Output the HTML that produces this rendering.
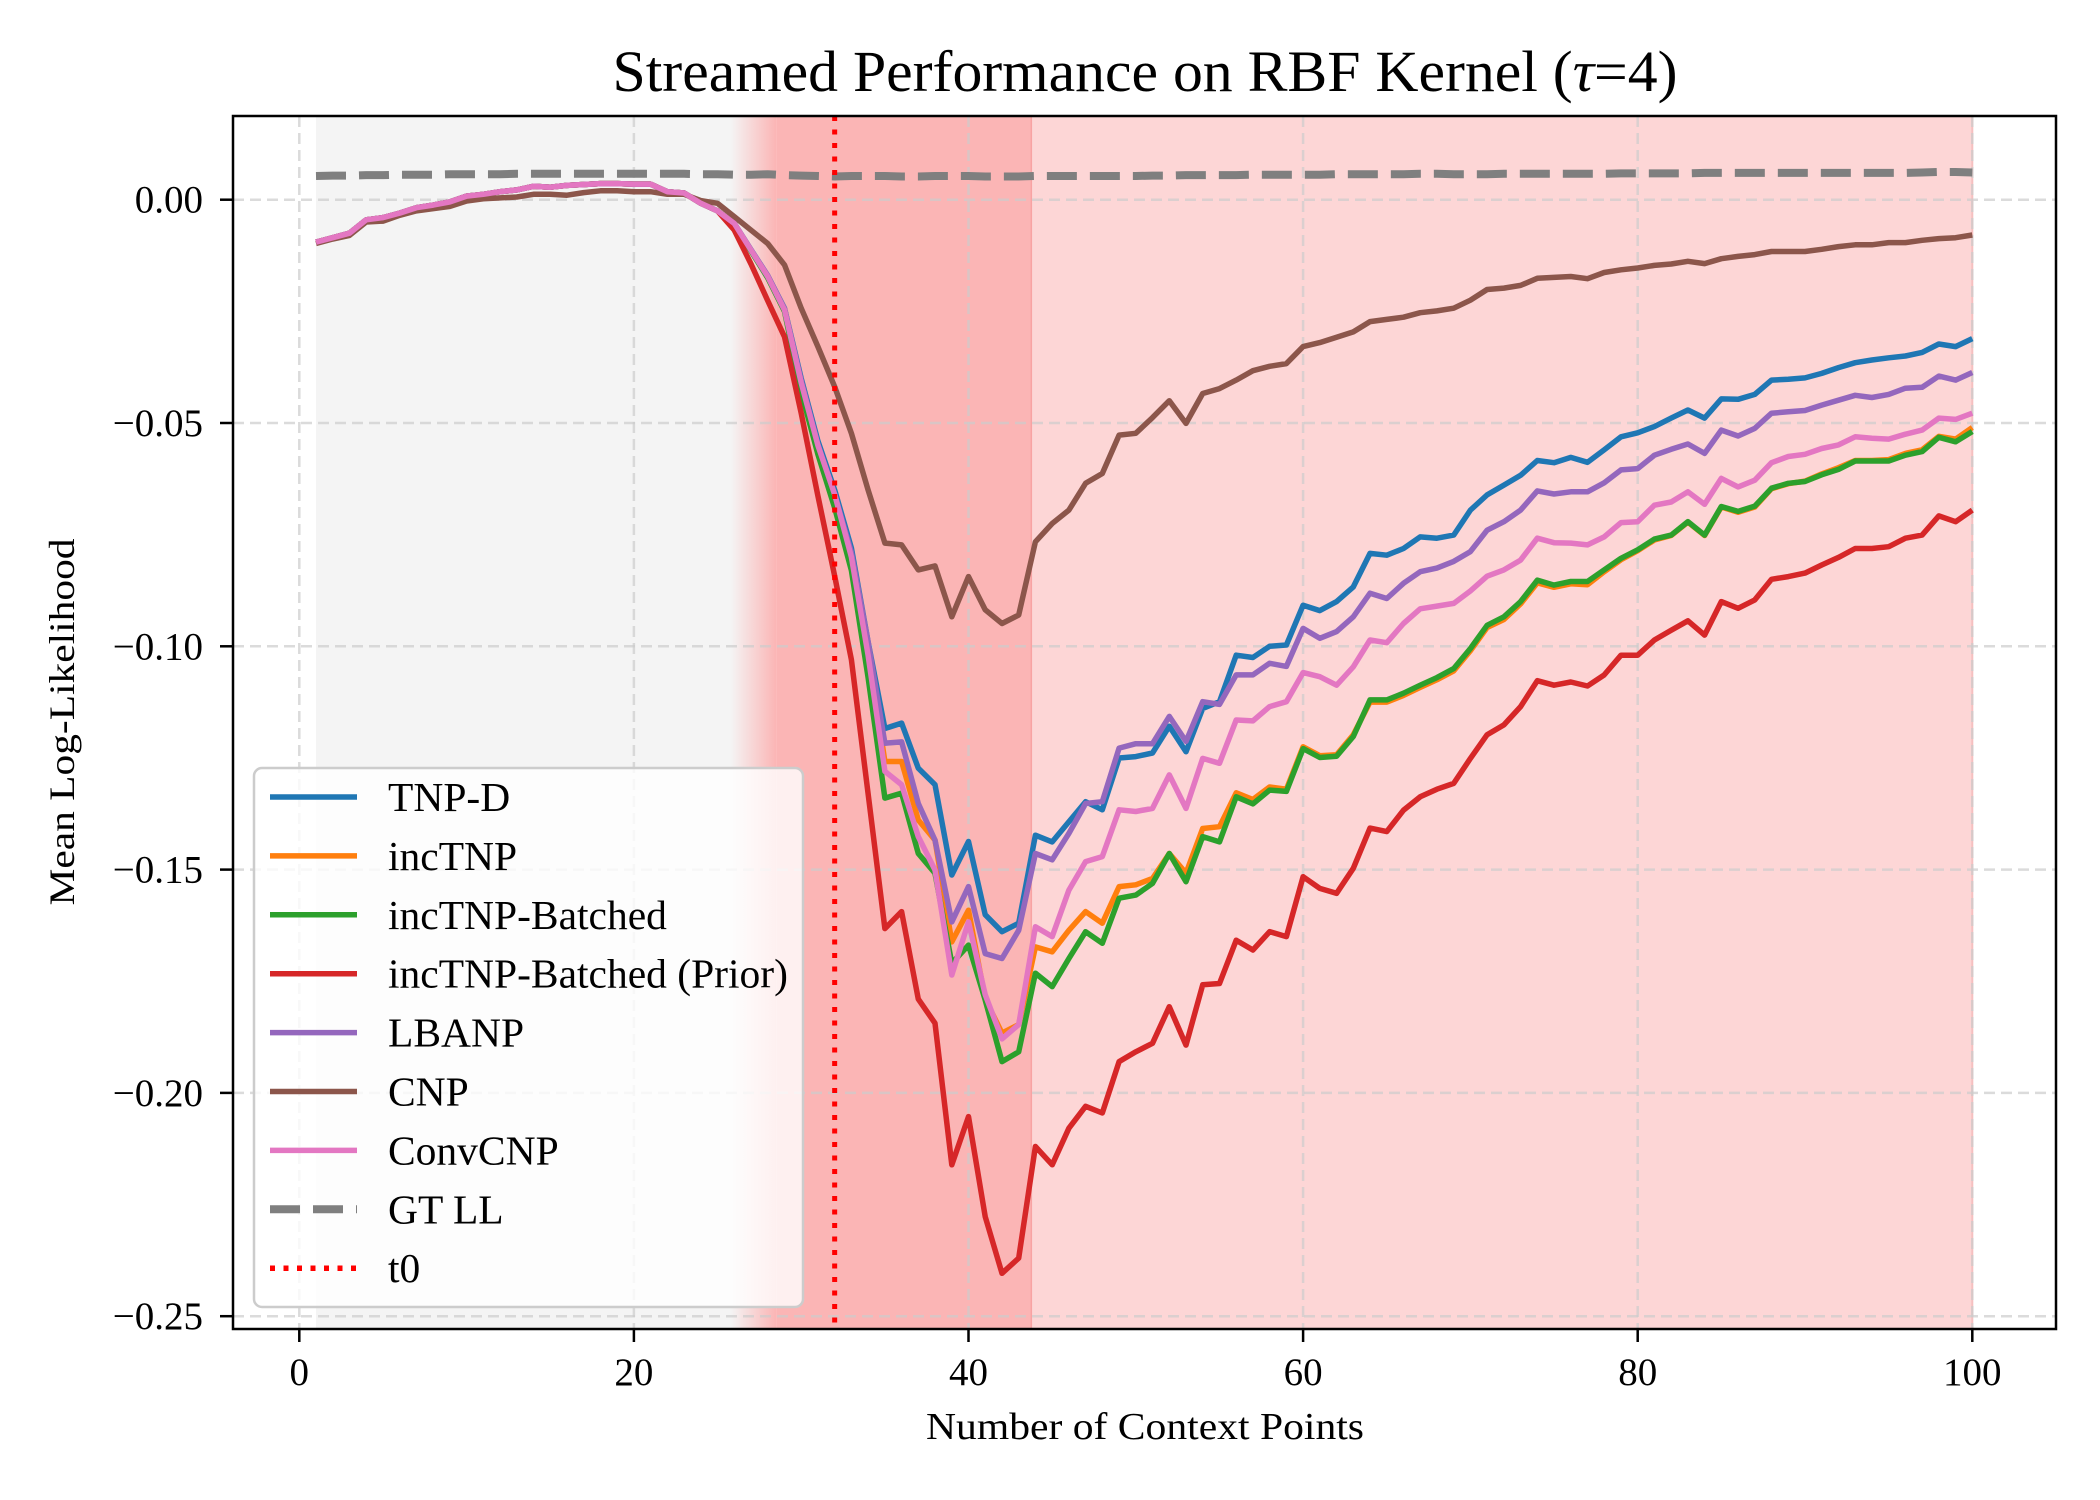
<!DOCTYPE html>
<html><head><meta charset="utf-8"><style>
html,body{margin:0;padding:0;background:#fff;}
svg{display:block;font-family:"Liberation Serif","DejaVu Serif",serif;}
</style></head><body>
<svg id="chart" width="2100" height="1500" viewBox="0 0 2100 1500" xmlns="http://www.w3.org/2000/svg">
<defs>
<linearGradient id="fadeGrad" x1="0" x2="1" y1="0" y2="0"><stop offset="0" stop-color="#f4f4f4"/><stop offset="1" stop-color="#fbb5b5"/></linearGradient>
<clipPath id="plotClip"><rect x="233" y="116" width="1823" height="1213"/></clipPath>
</defs>
<text x="1145" y="91" font-size="58" text-anchor="middle" textLength="1065" lengthAdjust="spacingAndGlyphs">Streamed Performance on RBF Kernel (<tspan font-style="italic">τ</tspan>=4)</text>
<g id="bg"></g><g id="grid"></g><g id="series" clip-path="url(#plotClip)"></g>
<g id="axes"></g><g id="legend"></g>
<text x="1145" y="1439" font-size="38" text-anchor="middle" textLength="438" lengthAdjust="spacingAndGlyphs">Number of Context Points</text>
<text transform="translate(74,722) rotate(-90)" font-size="36" text-anchor="middle" textLength="367" lengthAdjust="spacingAndGlyphs">Mean Log-Likelihood</text>
</svg>
<script>
const xs = Array.from({length:100},(_,i)=>i+1);
const base = [-0.0095,-0.0085,-0.0075,-0.0045,-0.004,-0.003,-0.0018,-0.0012,-0.0005,0.0008,0.0012,0.0018,0.0022,0.003,0.0028,0.0032,0.0034,0.0036,0.0036,0.0035,0.0035,0.0018,0.0015,-0.0008,-0.0025];
const tnpD = base.concat([-0.0053,-0.0112,-0.017,-0.0243,-0.040,-0.054,-0.065,-0.078,-0.099,
-0.1184,-0.1172,-0.1273,-0.1310,-0.1512,-0.1437,-0.1601,-0.1639,-0.1620,-0.1423,
-0.1438,-0.1393,-0.1348,-0.1366,-0.1250,-0.1247,-0.1239,-0.1179,-0.1236,
-0.1139,-0.1124,-0.1020,-0.1025,-0.1000,-0.0997,-0.0908,-0.0920,-0.0900,-0.0867,
-0.0792,-0.0796,-0.0781,-0.0755,-0.0758,-0.0751,-0.0695,-0.0661,-0.0639,-0.0617,
-0.0584,-0.0589,-0.0577,-0.0588,-0.0560,-0.0531,
-0.0522,-0.0508,-0.0489,-0.0471,-0.0489,-0.0446,-0.0447,-0.0436,-0.0404,-0.0402,
-0.0399,-0.0389,-0.0376,-0.0365,-0.0359,-0.0354,-0.0350,-0.0342,-0.0323,-0.0329,-0.0311]);
const incTNP = base.concat([-0.0053,-0.0113,-0.0172,-0.0245,-0.041,-0.0555,-0.0665,-0.080,-0.101,
-0.1258,-0.1258,-0.1389,-0.1434,-0.1662,-0.1591,-0.1790,-0.1866,-0.1847,-0.1673,
-0.1684,-0.1636,-0.1594,-0.1620,-0.1538,-0.1534,-0.1520,-0.1464,-0.1508,
-0.1408,-0.1404,-0.1328,-0.1343,-0.1315,-0.1320,-0.1225,-0.1245,-0.1243,-0.1198,
-0.1125,-0.1125,-0.1110,-0.1092,-0.1075,-0.1055,-0.1010,-0.0958,-0.0940,-0.0905,
-0.0858,-0.0868,-0.0860,-0.0862,-0.0833,-0.0806,
-0.0786,-0.0762,-0.0752,-0.0722,-0.0752,-0.0688,-0.0700,-0.0688,-0.0647,-0.0636,
-0.0630,-0.0614,-0.0600,-0.0584,-0.0584,-0.0582,-0.0568,-0.0560,-0.0530,-0.0536,-0.0510]);
const incBatched = base.concat([-0.0055,-0.0115,-0.0175,-0.025,-0.043,-0.057,-0.069,-0.083,-0.107,
-0.1340,-0.1329,-0.1464,-0.1508,-0.1710,-0.1669,-0.1792,-0.1930,-0.1908,-0.1732,
-0.1762,-0.1699,-0.1639,-0.1665,-0.1564,-0.1557,-0.1531,-0.1464,-0.1527,
-0.1426,-0.1438,-0.1337,-0.1353,-0.1322,-0.1325,-0.1229,-0.1249,-0.1246,-0.1202,
-0.1120,-0.1120,-0.1105,-0.1087,-0.1070,-0.1050,-0.1005,-0.0953,-0.0934,-0.0900,
-0.0852,-0.0863,-0.0855,-0.0855,-0.0829,-0.0803,
-0.0784,-0.0760,-0.0751,-0.0721,-0.0751,-0.0687,-0.0698,-0.0686,-0.0646,-0.0635,
-0.0631,-0.0616,-0.0604,-0.0585,-0.0585,-0.0585,-0.0572,-0.0564,-0.0532,-0.0542,-0.0519]);
const incPrior = base.concat([-0.0068,-0.0144,-0.0226,-0.0307,-0.0478,-0.0663,-0.0843,-0.1030,-0.1330,
-0.1632,-0.1594,-0.1790,-0.1844,-0.2161,-0.2053,-0.2277,-0.2404,-0.2370,-0.2120,
-0.2161,-0.2079,-0.2030,-0.2045,-0.1930,-0.1908,-0.1889,-0.1807,-0.1893,
-0.1758,-0.1755,-0.1658,-0.1680,-0.1639,-0.1650,-0.1516,-0.1542,-0.1553,-0.1497,
-0.1407,-0.1415,-0.1367,-0.1337,-0.1320,-0.1307,-0.1251,-0.1198,-0.1176,-0.1135,
-0.1077,-0.1087,-0.1080,-0.1089,-0.1064,-0.1020,
-0.1020,-0.0986,-0.0964,-0.0943,-0.0975,-0.0900,-0.0915,-0.0896,-0.0850,-0.0844,
-0.0836,-0.0818,-0.0801,-0.0781,-0.0781,-0.0777,-0.0758,-0.0751,-0.0708,-0.0721,-0.0695]);
const lbanp = base.concat([-0.0053,-0.0112,-0.017,-0.0244,-0.0405,-0.0548,-0.066,-0.079,-0.099,
-0.1217,-0.1214,-0.1352,-0.1434,-0.1617,-0.1538,-0.1688,-0.1699,-0.1636,-0.1464,
-0.1478,-0.1419,-0.1352,-0.1348,-0.1228,-0.1218,-0.1218,-0.1157,-0.1213,
-0.1124,-0.1130,-0.1064,-0.1064,-0.1038,-0.1045,-0.0960,-0.0982,-0.0967,-0.0934,
-0.0881,-0.0893,-0.0859,-0.0833,-0.0825,-0.0810,-0.0788,-0.0740,-0.0721,-0.0695,
-0.0652,-0.0659,-0.0654,-0.0654,-0.0634,-0.0605,
-0.0602,-0.0572,-0.0559,-0.0547,-0.0568,-0.0516,-0.0529,-0.0512,-0.0478,-0.0475,
-0.0472,-0.0460,-0.0449,-0.0438,-0.0443,-0.0436,-0.0422,-0.0420,-0.0395,-0.0404,-0.0387]);
const cnp = [-0.0098,-0.0088,-0.008,-0.005,-0.0048,-0.0035,-0.0025,-0.002,-0.0015,-0.0003,0.0002,0.0004,0.0006,0.0012,0.0012,0.001,0.0016,0.002,0.002,0.0018,0.0018,0.0012,0.0012,-0.0002,-0.0008,
-0.0038,-0.0068,-0.0098,-0.0146,-0.0243,-0.0329,-0.0419,-0.0523,-0.0650,
-0.0769,-0.0773,-0.0829,-0.0820,-0.0934,-0.0844,-0.0918,-0.0949,-0.0930,-0.0766,
-0.0725,-0.0695,-0.0635,-0.0613,-0.0527,-0.0523,-0.0488,-0.0450,-0.0501,
-0.0434,-0.0423,-0.0404,-0.0383,-0.0373,-0.0367,-0.0329,-0.0320,-0.0308,-0.0296,
-0.0273,-0.0268,-0.0263,-0.0253,-0.0249,-0.0243,-0.0225,-0.0201,-0.0198,-0.0192,
-0.0176,-0.0174,-0.0172,-0.0177,-0.0163,-0.0157,
-0.0153,-0.0147,-0.0144,-0.0138,-0.0143,-0.0132,-0.0127,-0.0123,-0.0116,-0.0116,
-0.0116,-0.0111,-0.0105,-0.0101,-0.0101,-0.0096,-0.0096,-0.0091,-0.0087,-0.0085,-0.0079];
const convCNP = base.concat([-0.0053,-0.0113,-0.0172,-0.0247,-0.041,-0.055,-0.066,-0.080,-0.102,
-0.1280,-0.1310,-0.1426,-0.1501,-0.1736,-0.1617,-0.1780,-0.1879,-0.1847,-0.1628,
-0.1650,-0.1546,-0.1482,-0.1471,-0.1366,-0.1370,-0.1363,-0.1288,-0.1363,
-0.1251,-0.1262,-0.1165,-0.1167,-0.1135,-0.1124,-0.1059,-0.1068,-0.1087,-0.1046,
-0.0986,-0.0992,-0.0949,-0.0916,-0.0910,-0.0904,-0.0876,-0.0843,-0.0829,-0.0807,
-0.0758,-0.0768,-0.0769,-0.0773,-0.0755,-0.0723,
-0.0721,-0.0684,-0.0677,-0.0654,-0.0682,-0.0624,-0.0643,-0.0628,-0.0589,-0.0575,
-0.0570,-0.0557,-0.0549,-0.0531,-0.0534,-0.0536,-0.0525,-0.0516,-0.0489,-0.0492,-0.0478]);
const gtLL = [0.0053,0.0054,0.0054,0.0055,0.0055,0.0056,0.0056,0.0056,0.0057,0.0057,
0.0057,0.0057,0.0058,0.0058,0.0058,0.0058,0.0058,0.0058,0.0058,0.0058,
0.0058,0.0058,0.0058,0.0057,0.0057,0.0056,0.0056,0.0057,0.0055,0.0054,
0.0053,0.0052,0.0053,0.0053,0.0053,0.0052,0.0052,0.0053,0.0053,0.0053,
0.0052,0.0052,0.0052,0.0053,0.0053,0.0053,0.0053,0.0053,0.0053,0.0053,
0.0054,0.0054,0.0055,0.0055,0.0055,0.0055,0.0056,0.0056,0.0056,0.0056,
0.0056,0.0057,0.0057,0.0057,0.0057,0.0057,0.0058,0.0058,0.0057,0.0057,
0.0057,0.0058,0.0058,0.0058,0.0058,0.0058,0.0058,0.0058,0.0059,0.0059,
0.0059,0.0059,0.0059,0.0060,0.0060,0.0060,0.0060,0.0060,0.0060,0.0060,
0.0060,0.0060,0.0060,0.0060,0.0060,0.0060,0.0061,0.0062,0.0062,0.0061];
const xTicks = [0,20,40,60,80,100];
const yTicks = [0,-0.05,-0.10,-0.15,-0.20,-0.25];
const yTickLabels = ["0.00","−0.05","−0.10","−0.15","−0.20","−0.25"];
const t0 = 32;
const regions = [1,25.8,28.5,43.8,100];
const legendLabels = ["TNP-D","incTNP","incTNP-Batched","incTNP-Batched (Prior)","LBANP","CNP","ConvCNP","GT LL","t0"];

const L=233,R=2056,T=116,B=1329;
const X = v => 299.3 + (v-0)*16.73;
const Y = v => 199.7 - v*4466;
const NS="http://www.w3.org/2000/svg";
function mk(tag, parent, attrs){const e=document.createElementNS(NS,tag);for(const k in attrs)e.setAttribute(k,attrs[k]);parent.appendChild(e);return e;}
const bg=document.getElementById('bg'), grid=document.getElementById('grid'), ser=document.getElementById('series'), axes=document.getElementById('axes'), leg=document.getElementById('legend');

let r;
r=mk('rect',bg,{x:X(regions[0]),y:T,width:X(regions[1])-X(regions[0]),height:B-T,fill:'#f4f4f4'});


r=mk('rect',bg,{x:X(regions[1]),y:T,width:X(regions[2])-X(regions[1]),height:B-T,fill:'url(#fadeGrad)'});


r=mk('rect',bg,{x:X(regions[2]),y:T,width:X(regions[3])-X(regions[2]),height:B-T,fill:'#fbb5b5'});


mk('line',bg,{x1:X(regions[3]),x2:X(regions[3]),y1:T,y2:B,stroke:'#f8a3a3','stroke-width':3});
r=mk('rect',bg,{x:X(regions[3]),y:T,width:X(regions[4])-X(regions[3]),height:B-T,fill:'#fdd6d6'});


mk('line',bg,{x1:X(regions[4]),x2:X(regions[4]),y1:T,y2:B,stroke:'#f5c0c0','stroke-width':2});

xTicks.forEach(v=>{
  const g=mk('line',grid,{x1:X(v),x2:X(v),y1:T,y2:B,stroke:'#cccccc','stroke-opacity':0.7,'stroke-width':2.5,'stroke-dasharray':'11,6'});
  
  
  mk('line',axes,{x1:X(v),x2:X(v),y1:B,y2:B+13,stroke:'#000','stroke-width':2.5});
  const t=mk('text',axes,{x:X(v),y:1385,'font-size':39,'text-anchor':'middle'});t.textContent=String(v);
  
  
});
yTicks.forEach((v,i)=>{
  const g=mk('line',grid,{x1:L,x2:R,y1:Y(v),y2:Y(v),stroke:'#cccccc','stroke-opacity':0.7,'stroke-width':2.5,'stroke-dasharray':'11,6'});
  
  
  mk('line',axes,{x1:L-13,x2:L,y1:Y(v),y2:Y(v),stroke:'#000','stroke-width':2.5});
  const t=mk('text',axes,{x:203,y:Y(v)+13,'font-size':39,'text-anchor':'end'});t.textContent=yTickLabels[i];
  
  
});
const frame=mk('rect',axes,{x:L,y:T,width:R-L,height:B-T,fill:'none',stroke:'#000','stroke-width':2.5});



const seriesDefs=[
 [tnpD,'#1f77b4',null,'tnp-d-line'],
 [incTNP,'#ff7f0e',null,'inctnp-line'],
 [incBatched,'#2ca02c',null,'inctnp-batched-line'],
 [incPrior,'#d62728',null,'inctnp-batched-prior-line'],
 [lbanp,'#9467bd',null,'lbanp-line'],
 [cnp,'#8c564b',null,'cnp-line'],
 [convCNP,'#e377c2',null,'convcnp-line'],
 [gtLL,'#7f7f7f','30,13','gt-ll-line']
];
seriesDefs.forEach(([vals,col,dash,name])=>{
  const d=vals.map((v,i)=>(i?'L':'M')+X(xs[i]).toFixed(1)+','+Y(v).toFixed(1)).join(' ');
  const p=mk('path',ser,{d:d,fill:'none',stroke:col,'stroke-width':dash?8:5.5,'stroke-linejoin':'round'});
  if(dash)p.setAttribute('stroke-dasharray',dash);
  
  
});
const tl=mk('line',ser,{x1:X(t0),x2:X(t0),y1:T,y2:B,stroke:'#ff0000','stroke-width':5,'stroke-dasharray':'5,8.5'});



const lb=mk('rect',leg,{x:254,y:768,width:549,height:539,rx:8,fill:'#ffffff','fill-opacity':0.8,stroke:'#cccccc','stroke-width':2.5});


const cols=['#1f77b4','#ff7f0e','#2ca02c','#d62728','#9467bd','#8c564b','#e377c2','#7f7f7f','#ff0000'];
legendLabels.forEach((lab,i)=>{
  const cy=797+i*58.9;
  const g=mk('g',leg,{});
  
  
  const ln=mk('line',g,{x1:270,x2:357,y1:cy,y2:cy,stroke:cols[i],'stroke-width':i===7?8:5.5});
  if(i===7)ln.setAttribute('stroke-dasharray','30,13');
  if(i===8)ln.setAttribute('stroke-dasharray','5,8.5');
  const t=mk('text',g,{x:388,y:cy+14,'font-size':41.5});t.textContent=lab;
});
</script>
</body></html>
